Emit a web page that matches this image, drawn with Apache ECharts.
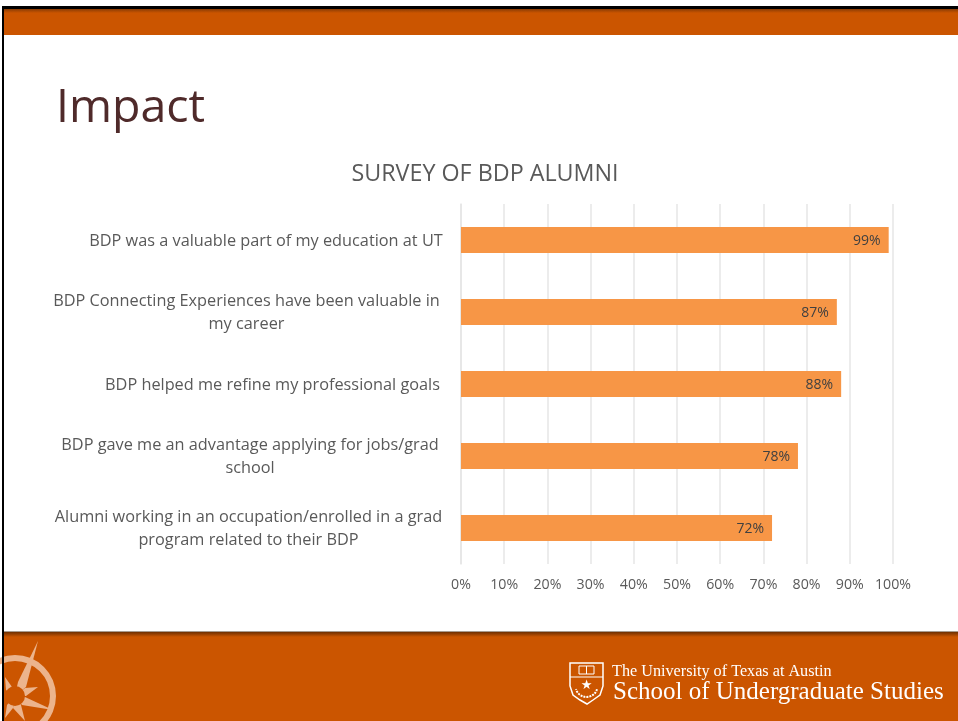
<!DOCTYPE html>
<html>
<head>
<meta charset="utf-8">
<style>
html, body { margin: 0; padding: 0; background: #fff; }
#chart { width: 958px; height: 721px; }
</style>
<script src="https://cdn.jsdelivr.net/npm/echarts@6/dist/echarts.min.js"></script>
</head>
<body>
<div id="chart"></div>
<script>
const categories = [
  'BDP was a valuable part of my education at UT',
  'BDP Connecting Experiences have been valuable in\nmy career',
  'BDP helped me refine my professional goals',
  'BDP gave me an advantage applying for jobs/grad\nschool',
  'Alumni working in an occupation/enrolled in a grad\nprogram related to their BDP'
]
const values = [99, 87, 88, 78, 72]
const xTicks = [0, 10, 20, 30, 40, 50, 60, 70, 80, 90, 100]

const orange = '#cb5500'
const peach = '#ecb48c'
// each label block is as wide as its longest line, so short lines stay centred under it
const labelWidths = [356, 387, 335, 378, 389]
const labelPads = [0, 4, 4, 5, 1]
const rich = {}
labelWidths.forEach((w, i) => {
  rich['c' + i] = {
    width: w,
    align: 'center',
    lineHeight: 23,
    fontSize: 16.3,
    color: '#595959',
    fontFamily: 'Open Sans',
    padding: [0, labelPads[i], 0, 0]
  }
})

const chart = echarts.init(document.getElementById('chart'), null, { renderer: 'canvas' })

const compassCx = 15
const compassCy = 696
const spikes = [
  [[38, 641], [26, 687], [18, 682]],
  [[53, 710], [25, 697], [22, 705]],
  [[38, 687], [25, 688], [26, 696]],
  [[25, 721], [21, 705], [13, 708]],
  [[5, 677], [12, 687], [6, 690]],
  [[5, 718], [13, 708], [7, 705]]
]

const graphics = [
  { type: 'rect', z: -10, shape: { x: 2, y: 6, width: 956, height: 715 }, style: { fill: '#000' } },
  { type: 'rect', z: -9, shape: { x: 4, y: 9, width: 954, height: 712 }, style: { fill: '#fff' } },
  { type: 'rect', z: -8, shape: { x: 4, y: 9, width: 954, height: 26 }, style: { fill: orange } },
  {
    type: 'rect', z: -7, shape: { x: 4, y: 9, width: 954, height: 4 },
    style: { fill: new echarts.graphic.LinearGradient(0, 0, 0, 1, [{ offset: 0, color: '#8a3c05' }, { offset: 1, color: orange }]) }
  },
  { type: 'rect', z: -8, shape: { x: 4, y: 631, width: 954, height: 90 }, style: { fill: orange } },
  { type: 'rect', z: -7, shape: { x: 4, y: 631, width: 954, height: 1 }, style: { fill: '#a89c90' } },
  {
    type: 'rect', z: -7, shape: { x: 4, y: 632, width: 954, height: 5 },
    style: { fill: new echarts.graphic.LinearGradient(0, 0, 0, 1, [{ offset: 0, color: '#6e3002' }, { offset: 1, color: orange }]) }
  },
  // compass in the footer corner, each spike runs in under the centre disc
  { type: 'ring', z: 4, shape: { cx: compassCx, cy: compassCy, r: 41, r0: 35 }, style: { fill: peach } },
  ...spikes.map(p => ({
    type: 'polygon', z: 4,
    shape: { points: [p[0], p[1], [compassCx, compassCy], p[2]] },
    style: { fill: peach }
  })),
  { type: 'circle', z: 5, shape: { cx: compassCx, cy: compassCy, r: 10 }, style: { fill: orange } },
  { type: 'rect', z: 6, shape: { x: 2, y: 632, width: 2, height: 89 }, style: { fill: '#000' } },
  // shield logo
  {
    type: 'polygon', z: 4,
    shape: { points: [[570, 663], [603, 663], [603, 686], [600, 695], [593, 700], [587, 704], [580, 700], [573, 695], [570, 686]] },
    style: { fill: 'none', stroke: '#fff', lineWidth: 1.5 }
  },
  { type: 'line', z: 4, shape: { x1: 570, y1: 677, x2: 603, y2: 677 }, style: { stroke: '#fff', lineWidth: 1.2 } },
  { type: 'rect', z: 4, shape: { x: 579, y: 666, width: 15, height: 8 }, style: { fill: 'none', stroke: '#fff', lineWidth: 1 } },
  { type: 'line', z: 4, shape: { x1: 586.5, y1: 666, x2: 586.5, y2: 674 }, style: { stroke: '#fff', lineWidth: 1 } },
  { type: 'text', z: 4, style: { x: 586.5, y: 686, text: '★', fill: '#fff', fontSize: 13, align: 'center', verticalAlign: 'middle', fontFamily: 'DejaVu Sans' } },
  { type: 'arc', z: 4, shape: { cx: 586.5, cy: 686, r: 11, startAngle: 0.3, endAngle: 2.85 }, style: { fill: 'none', stroke: '#fff', lineWidth: 2, lineDash: [2, 1] } },
  { type: 'text', z: 4, style: { x: 612, y: 672, text: 'The University of Texas at Austin', fill: '#fff', fontSize: 16.2, verticalAlign: 'middle', fontFamily: 'Liberation Serif' } },
  { type: 'text', z: 4, style: { x: 613, y: 692, text: 'School of Undergraduate Studies', fill: '#fff', fontSize: 25, verticalAlign: 'middle', fontFamily: 'Liberation Serif' } }
]

const option = {
  animation: false,
  backgroundColor: '#fff',
  textStyle: { fontFamily: 'Open Sans' },
  title: [
    {
      text: 'Impact', left: 51, top: 80,
      textStyle: { fontFamily: 'Open Sans', fontSize: 46.5, fontWeight: 'normal', color: '#4f2a2a' }
    },
    {
      text: 'SURVEY OF BDP ALUMNI', left: 480, top: 158, textAlign: 'center',
      textStyle: { fontFamily: 'Open Sans', fontSize: 23.3, fontWeight: 'normal', color: '#595959' }
    }
  ],
  grid: { left: 461, right: 65, top: 204, height: 360, containLabel: false },
  xAxis: {
    type: 'value',
    min: xTicks[0],
    max: xTicks[xTicks.length - 1],
    interval: 10,
    axisLine: { show: false },
    axisTick: { show: false },
    splitLine: { show: true, lineStyle: { color: '#e6e6e6', width: 1.5 } },
    axisLabel: {
      margin: 14,
      fontSize: 14.2,
      color: '#595959',
      fontFamily: 'Open Sans',
      formatter: v => v + '%'
    }
  },
  yAxis: {
    type: 'category',
    inverse: true,
    data: categories,
    axisLine: { show: true, lineStyle: { color: '#e6e6e6', width: 1.5 } },
    axisTick: { show: false },
    axisLabel: {
      margin: 17,
      align: 'right',
      interval: 0,
      padding: [2, 0, 0, 0],
      rich,
      formatter: (v, i) => '{c' + i + '|' + v.split('\n').join('}\n{c' + i + '|') + '}'
    }
  },
  series: [{
    type: 'bar',
    data: values,
    barWidth: 26,
    itemStyle: { color: '#f79646' },
    label: {
      show: true,
      position: 'insideRight',
      distance: 8,
      offset: [0, 1],
      fontSize: 14,
      color: '#404040',
      fontFamily: 'Open Sans',
      formatter: p => p.value + '%'
    }
  }],
  graphic: { elements: graphics.map(g => ({ ...g, silent: true })) }
}

chart.setOption(option)
</script>
</body>
</html>
